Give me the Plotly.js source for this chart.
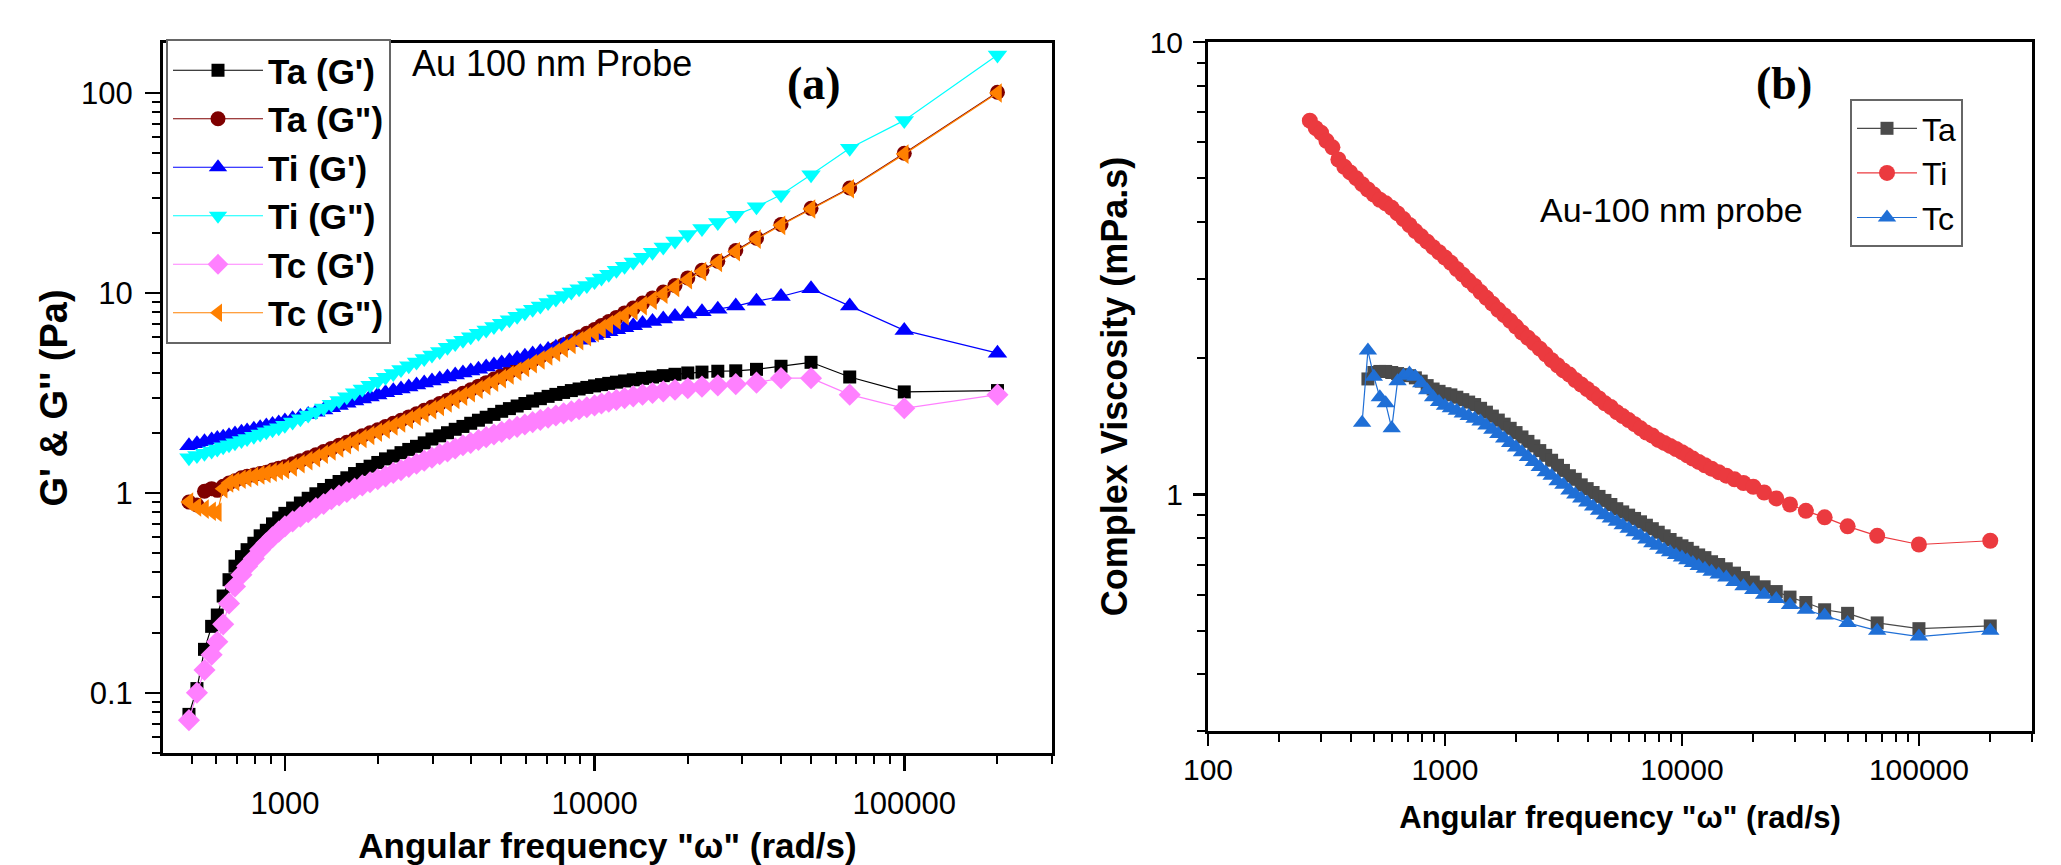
<!DOCTYPE html>
<html>
<head>
<meta charset="utf-8">
<script src="https://cdn.plot.ly/plotly-3.0.1.min.js"></script>
<style>html,body{margin:0;padding:0;background:#fff;}#chart{width:2061px;height:865px;}</style>
</head>
<body>
<div id="chart"></div>
<script>
// ---------- Panel (a): G' and G'' vs angular frequency ----------
const omegaA = [490, 520, 550, 580, 605, 632, 660, 690, 724, 755, 794, 832, 871, 912, 955,
  1000, 1059, 1122, 1189, 1259, 1334, 1413, 1496, 1585, 1679, 1778, 1884, 1995, 2113, 2239, 2371, 2512, 2661, 2818, 2985,
  3162, 3350, 3548, 3758, 3981, 4217, 4467, 4732, 5012, 5309, 5623, 5957, 6310, 6683, 7079, 7499, 7943, 8414, 8913, 9441,
  10000, 10526, 11111, 11765, 12500, 13333, 14286, 15385, 16667, 18182, 20000, 22222, 25000, 28571, 33333, 40000, 50000, 66667, 100000, 200000];

const taGp = [0.078, 0.105, 0.165, 0.215, 0.245, 0.305, 0.368, 0.43, 0.48, 0.52, 0.56, 0.61, 0.65, 0.70, 0.75,
  0.79, 0.84, 0.89, 0.94, 0.99, 1.04, 1.09, 1.14, 1.19, 1.25, 1.31, 1.36, 1.42, 1.48, 1.53, 1.59, 1.65, 1.71, 1.78, 1.86,
  1.93, 2.0, 2.08, 2.15, 2.23, 2.31, 2.39, 2.47, 2.56, 2.64, 2.72, 2.80, 2.88, 2.96, 3.04, 3.11, 3.18, 3.25, 3.31, 3.37,
  3.43, 3.48, 3.53, 3.58, 3.63, 3.68, 3.74, 3.80, 3.86, 3.92, 3.98, 4.02, 4.06, 4.08, 4.15, 4.3, 4.5, 3.8, 3.2, 3.25];

const taGpp = [0.90, 0.87, 1.02, 1.05, 1.03, 1.08, 1.12, 1.15, 1.19, 1.21, 1.23, 1.25, 1.27, 1.30, 1.33,
  1.35, 1.40, 1.45, 1.50, 1.55, 1.61, 1.67, 1.73, 1.79, 1.86, 1.93, 2.00, 2.07, 2.15, 2.23, 2.31, 2.40, 2.49, 2.59, 2.69,
  2.80, 2.91, 3.03, 3.15, 3.28, 3.42, 3.56, 3.71, 3.87, 4.04, 4.22, 4.41, 4.61, 4.82, 5.04, 5.27, 5.51, 5.76, 6.02, 6.29,
  6.57, 6.87, 7.2, 7.55, 7.95, 8.4, 8.9, 9.45, 10.1, 10.9, 11.9, 13.0, 14.4, 16.3, 18.8, 22, 26.5, 33.5, 50, 101];

const tiGp = [1.72, 1.76, 1.80, 1.84, 1.87, 1.90, 1.93, 1.97, 2.01, 2.04, 2.08, 2.12, 2.16, 2.20, 2.24,
  2.29, 2.35, 2.41, 2.47, 2.53, 2.60, 2.67, 2.74, 2.81, 2.88, 2.95, 3.02, 3.09, 3.17, 3.24, 3.31, 3.39, 3.47, 3.55, 3.63,
  3.71, 3.80, 3.89, 3.98, 4.07, 4.16, 4.26, 4.36, 4.47, 4.58, 4.70, 4.82, 4.95, 5.08, 5.22, 5.36, 5.50, 5.65, 5.80, 5.96,
  6.12, 6.25, 6.40, 6.55, 6.70, 6.86, 7.03, 7.20, 7.40, 7.62, 7.85, 8.05, 8.3, 8.6, 9.1, 9.6, 10.5, 8.6, 6.5, 5.0];

const tiGpp = [1.50, 1.54, 1.58, 1.62, 1.66, 1.70, 1.74, 1.78, 1.83, 1.87, 1.92, 1.97, 2.02, 2.07, 2.12,
  2.18, 2.26, 2.35, 2.45, 2.55, 2.66, 2.78, 2.90, 3.03, 3.17, 3.31, 3.46, 3.62, 3.79, 3.96, 4.14, 4.32, 4.51, 4.70, 4.90,
  5.10, 5.35, 5.59, 5.81, 6.04, 6.28, 6.53, 6.79, 7.06, 7.35, 7.65, 7.96, 8.28, 8.62, 8.97, 9.33, 9.71, 10.1, 10.5, 10.9,
  11.4, 11.9, 12.4, 13.0, 13.6, 14.3, 15.1, 16.0, 17.0, 18.2, 19.6, 21.0, 22.5, 24.5, 27, 31, 39, 53, 73, 155];

const tcGp = [0.073, 0.10, 0.13, 0.155, 0.18, 0.22, 0.28, 0.34, 0.39, 0.43, 0.47, 0.52, 0.56, 0.60, 0.64,
  0.68, 0.72, 0.76, 0.80, 0.84, 0.88, 0.93, 0.97, 1.01, 1.05, 1.09, 1.13, 1.17, 1.21, 1.26, 1.30, 1.35, 1.40, 1.45, 1.50,
  1.56, 1.61, 1.67, 1.73, 1.78, 1.84, 1.90, 1.96, 2.02, 2.08, 2.14, 2.20, 2.26, 2.32, 2.38, 2.44, 2.50, 2.56, 2.62, 2.68,
  2.74, 2.80, 2.86, 2.92, 2.98, 3.04, 3.10, 3.16, 3.22, 3.28, 3.34, 3.40, 3.45, 3.50, 3.56, 3.75, 3.75, 3.1, 2.65, 3.1];

const tcGpp = [0.90, 0.85, 0.83, 0.81, 0.80, 1.05, 1.12, 1.14, 1.17, 1.19, 1.21, 1.23, 1.25, 1.27, 1.29,
  1.31, 1.35, 1.40, 1.45, 1.50, 1.56, 1.62, 1.68, 1.74, 1.80, 1.87, 1.94, 2.01, 2.08, 2.16, 2.24, 2.33, 2.42, 2.51, 2.61,
  2.71, 2.82, 2.93, 3.05, 3.17, 3.30, 3.44, 3.58, 3.73, 3.89, 4.06, 4.24, 4.43, 4.63, 4.84, 5.06, 5.29, 5.53, 5.78, 6.05,
  6.33, 6.63, 6.96, 7.3, 7.7, 8.15, 8.65, 9.2, 9.85, 10.65, 11.65, 12.8, 14.2, 16.1, 18.6, 21.8, 26.3, 33.2, 49.5, 100];

// ---------- Panel (b): complex viscosity vs angular frequency ----------
const omegaB = [269, 285, 300, 316, 335, 355, 376, 398, 422, 447, 473, 501, 531, 562, 596, 631, 668, 708, 750, 794, 841, 891, 944,
  1000, 1059, 1122, 1189, 1259, 1334, 1413, 1496, 1585, 1679, 1778, 1884, 1995, 2113, 2239, 2371, 2512, 2661, 2818, 2985,
  3162, 3350, 3548, 3758, 3981, 4217, 4467, 4732, 5012, 5309, 5623, 5957, 6310, 6683, 7079, 7499, 7943, 8414, 8913, 9441,
  10000, 10526, 11111, 11765, 12500, 13333, 14286, 15385, 16667, 18182, 20000, 22222, 25000, 28571, 33333, 40000, 50000, 66667, 100000, 200000];

const etaTa = [null, null, null, null, null, null, null, null, null, null, 1.80, 1.86, 1.87, 1.87, 1.86, 1.85, 1.84, 1.83, 1.81, 1.78, 1.74, 1.71, 1.69,
  1.67, 1.66, 1.64, 1.62, 1.60, 1.58, 1.55, 1.52, 1.49, 1.46, 1.43, 1.40, 1.37, 1.34, 1.31, 1.28, 1.25, 1.22, 1.19, 1.16,
  1.13, 1.10, 1.08, 1.05, 1.03, 1.01, 0.99, 0.97, 0.95, 0.93, 0.915, 0.90, 0.885, 0.87, 0.855, 0.84, 0.825, 0.81, 0.795, 0.78,
  0.77, 0.76, 0.745, 0.735, 0.725, 0.71, 0.70, 0.685, 0.67, 0.655, 0.64, 0.625, 0.61, 0.593, 0.577, 0.556, 0.546, 0.52, 0.505, 0.512];

const etaTi = [6.7, 6.45, 6.3, 6.05, 5.85, 5.5, 5.3, 5.15, 5.0, 4.85, 4.72, 4.6, 4.48, 4.40, 4.30, 4.18, 4.06, 3.94, 3.82, 3.72, 3.62, 3.52, 3.43,
  3.34, 3.25, 3.15, 3.06, 2.97, 2.89, 2.80, 2.72, 2.64, 2.56, 2.49, 2.42, 2.35, 2.28, 2.22, 2.16, 2.10, 2.04, 1.98, 1.93,
  1.88, 1.84, 1.79, 1.75, 1.71, 1.67, 1.63, 1.59, 1.56, 1.52, 1.49, 1.46, 1.43, 1.40, 1.37, 1.35, 1.32, 1.30, 1.28, 1.26,
  1.24, 1.22, 1.20, 1.18, 1.16, 1.14, 1.12, 1.10, 1.08, 1.06, 1.04, 1.01, 0.98, 0.95, 0.92, 0.89, 0.85, 0.81, 0.775, 0.79];

const etaTc = [null, null, null, null, null, null, null, null, null, 1.44, 2.08, 1.82, 1.64, 1.59, 1.40, 1.78, 1.83, 1.85, 1.82, 1.76, 1.70, 1.64, 1.60,
  1.57, 1.55, 1.53, 1.51, 1.49, 1.47, 1.45, 1.42, 1.39, 1.36, 1.33, 1.30, 1.27, 1.24, 1.21, 1.18, 1.15, 1.12, 1.10, 1.07,
  1.05, 1.02, 1.00, 0.98, 0.96, 0.94, 0.92, 0.90, 0.885, 0.87, 0.855, 0.84, 0.825, 0.81, 0.795, 0.78, 0.77, 0.755, 0.745, 0.735,
  0.725, 0.715, 0.705, 0.695, 0.685, 0.675, 0.665, 0.655, 0.64, 0.627, 0.615, 0.60, 0.587, 0.57, 0.556, 0.54, 0.52, 0.50, 0.485, 0.50];

const namesA = ["Ta (G')", 'Ta (G")', "Ti (G')", 'Ti (G")', "Tc (G')", 'Tc (G")'];
const namesB = ['Ta', 'Ti', 'Tc'];

// ---------- build ----------
const W = 2061, H = 865;
const SANS = 'Liberation Sans, Arial, Helvetica, sans-serif';
const SERIF = 'Liberation Serif, Times New Roman, serif';

function tr(x, y, name, color, symbol, size, xa, ya, legend) {
  return {
    x: x, y: y, name: name, type: 'scatter', mode: 'lines+markers',
    xaxis: xa, yaxis: ya, legend: legend,
    line: {color: color, width: 1.2},
    marker: {symbol: symbol, size: size, color: color, line: {width: 0}},
    connectgaps: false, cliponaxis: true
  };
}

const data = [
  tr(omegaA, taGp,  namesA[0], '#000000', 'square', 13, 'x', 'y', 'legend'),
  tr(omegaA, taGpp, namesA[1], '#7f0000', 'circle', 15, 'x', 'y', 'legend'),
  tr(omegaA, tiGp,  namesA[2], '#0000ff', 'triangle-up', 17, 'x', 'y', 'legend'),
  tr(omegaA, tiGpp, namesA[3], '#00ffff', 'triangle-down', 17, 'x', 'y', 'legend'),
  tr(omegaA, tcGp,  namesA[4], '#ff80ff', 'diamond', 17, 'x', 'y', 'legend'),
  tr(omegaA, tcGpp, namesA[5], '#ff8000', 'triangle-left', 17, 'x', 'y', 'legend'),
  tr(omegaB, etaTa, namesB[0], '#4a4a4a', 'square', 13, 'x2', 'y2', 'legend2'),
  tr(omegaB, etaTi, namesB[1], '#eb3a3f', 'circle', 16, 'x2', 'y2', 'legend2'),
  tr(omegaB, etaTc, namesB[2], '#1f6fd6', 'triangle-up', 16, 'x2', 'y2', 'legend2')
];

const px = v => v / W;
const py = v => 1 - v / H;

function axisBase() {
  return {
    type: 'log', showgrid: false, zeroline: false,
    showline: true, linecolor: '#000', linewidth: 3, mirror: true,
    ticks: 'outside', ticklen: 15, tickwidth: 2.5, tickcolor: '#000',
    dtick: 1, exponentformat: 'none',
    tickfont: {family: SANS, size: 31, color: '#000'},
    minor: {ticks: 'outside', ticklen: 8, tickwidth: 2, tickcolor: '#000', dtick: 'D1', showgrid: false},
    ticklabelstandoff: 6
  };
}

const layout = {
  width: W, height: H,
  margin: {l: 0, r: 0, t: 0, b: 0},
  paper_bgcolor: '#fff', plot_bgcolor: '#fff',
  showlegend: true,
  xaxis: Object.assign(axisBase(), {
    domain: [px(163), px(1052)], anchor: 'y',
    range: [Math.log10(404), Math.log10(300000)],
    tickformat: 'd',
    title: {text: 'Angular frequency "ω" (rad/s)', font: {family: SANS, size: 35, weight: 'bold', color: '#000'}, standoff: 18}
  }),
  yaxis: Object.assign(axisBase(), {
    domain: [py(753), py(43)], anchor: 'x',
    range: [Math.log10(0.05), Math.log10(178)],
    title: {text: "G' & G'' (Pa)", font: {family: SANS, size: 38, weight: 'bold', color: '#000'}, standoff: 2}
  }),
  xaxis2: Object.assign(axisBase(), {
    domain: [px(1208), px(2032)], anchor: 'y2',
    range: [2, Math.log10(300000)],
    tickformat: 'd',
    tickfont: {family: SANS, size: 30, color: '#000'},
    ticklen: 12, ticklabelstandoff: -2,
    title: {text: 'Angular frequency "ω" (rad/s)', font: {family: SANS, size: 31, weight: 'bold', color: '#000'}, standoff: 22}
  }),
  yaxis2: Object.assign(axisBase(), {
    domain: [py(731), py(42)], anchor: 'x2',
    range: [Math.log10(0.3), 1],
    tickfont: {family: SANS, size: 30, color: '#000'},
    ticklen: 12, ticklabelstandoff: 4,
    title: {text: 'Complex Viscosity (mPa.s)', font: {family: SANS, size: 36, weight: 'bold', color: '#000'}, standoff: 12}
  }),
  legend: {
    x: px(166), y: py(39), xanchor: 'left', yanchor: 'top',
    bgcolor: '#fff', bordercolor: '#666', borderwidth: 2,
    font: {family: SANS, size: 35, weight: 'bold', color: '#000'},
    itemwidth: 90, tracegroupgap: 0
  },
  legend2: {
    x: px(1850), y: py(99), xanchor: 'left', yanchor: 'top',
    bgcolor: '#fff', bordercolor: '#666', borderwidth: 2,
    font: {family: SANS, size: 32, color: '#000'},
    itemwidth: 60
  },
  annotations: [
    {xref: 'paper', yref: 'paper', x: px(410), y: py(63), xanchor: 'left', yanchor: 'middle', showarrow: false,
     text: 'Au 100 nm Probe', font: {family: SANS, size: 36, color: '#000'}},
    {xref: 'paper', yref: 'paper', x: px(814), y: py(83), xanchor: 'center', yanchor: 'middle', showarrow: false,
     text: '<b>(a)</b>', font: {family: SERIF, size: 46, color: '#000'}},
    {xref: 'paper', yref: 'paper', x: px(1784), y: py(83), xanchor: 'center', yanchor: 'middle', showarrow: false,
     text: '<b>(b)</b>', font: {family: SERIF, size: 46, color: '#000'}},
    {xref: 'paper', yref: 'paper', x: px(1671), y: py(210), xanchor: 'center', yanchor: 'middle', showarrow: false,
     text: 'Au-100 nm probe', font: {family: SANS, size: 34, color: '#000'}}
  ]
};

Plotly.newPlot('chart', data, layout, {displayModeBar: false, staticPlot: true});
</script>
</body>
</html>
